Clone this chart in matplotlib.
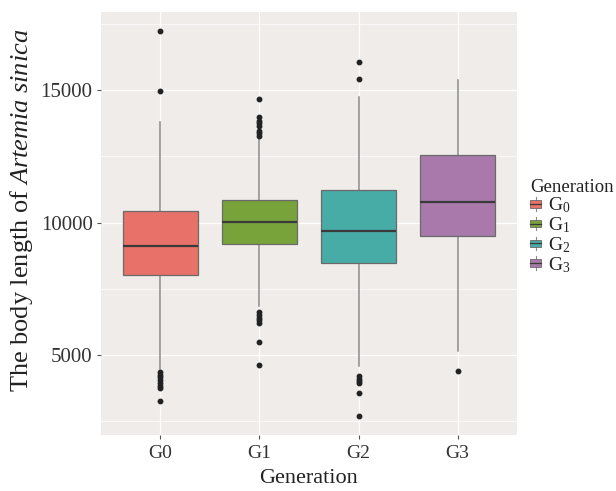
import matplotlib
matplotlib.use("Agg")
import matplotlib.pyplot as plt
from matplotlib.legend_handler import HandlerBase
from matplotlib.patches import Rectangle, Patch
from matplotlib.lines import Line2D

plt.rcParams["font.family"] = ["Liberation Serif", "DejaVu Serif"]
plt.rcParams["mathtext.fontset"] = "custom"
plt.rcParams["mathtext.rm"] = "Liberation Serif"
plt.rcParams["mathtext.it"] = "Liberation Serif:italic"

# values
generations = ["G0", "G1", "G2", "G3"]
legend_labels = ["G$_0$", "G$_1$", "G$_2$", "G$_3$"]
q1 = [8025, 9196, 8467, 9498]
median = [9109, 10038, 9687, 10782]
q3 = [10453, 10857, 11246, 12568]
whis_lo = [4464, 6854, 4562, 5128]
whis_hi = [13814, 13250, 14758, 15389]
outliers = [
    [17240, 14985, 4350, 4249, 4147, 4048, 3947, 3834, 3732, 3266],
    [14660, 14003, 13852, 13754, 13652, 13463, 13376, 13286,
     6639, 6514, 6390, 6300, 6201, 5483, 4626],
    [16069, 15427, 4184, 4097, 4022, 3935, 3557, 2700],
    [4400],
]
colors = ["#E8716A", "#78A23A", "#47ABA6", "#A879AA"]

stats = []
for i in range(4):
    stats.append(dict(label=generations[i], q1=q1[i], med=median[i], q3=q3[i],
                      whislo=whis_lo[i], whishi=whis_hi[i], fliers=outliers[i]))

fig = plt.figure(figsize=(6.16, 4.91), dpi=100)
ax = fig.add_axes([101 / 616, 1 - 435 / 491, 416 / 616, 423.3 / 491])
ax.set_facecolor("#F0ECEA")

pos = [1, 2, 3, 4]
bp = ax.bxp(stats, positions=pos, widths=0.75, patch_artist=True, showcaps=False,
            boxprops=dict(edgecolor="#6a6a6a", linewidth=0.9),
            medianprops=dict(color="#3a3a3a", linewidth=1.6),
            whiskerprops=dict(color="#8a8a8a", linewidth=1.1),
            flierprops=dict(marker="o", markerfacecolor="#222222", markeredgecolor="#222222",
                            markersize=3.2))
for b, c in zip(bp["boxes"], colors):
    b.set_facecolor(c)
for w in bp["whiskers"]:
    w.set_zorder(1)

allv = [v for f in outliers for v in f] + whis_lo + whis_hi
lo, hi = min(allv), max(allv)
pad = (hi - lo) * 0.05
ax.set_ylim(lo - pad, hi + pad)
ax.set_xlim(0.4, 4.6)

ax.set_yticks([5000, 10000, 15000])
ax.set_yticks([2500, 7500, 12500, 17500], minor=True)
ax.set_xticks(pos)
ax.set_xticklabels(generations)
ax.grid(True, which="major", color="white", linewidth=0.9)
ax.grid(True, which="minor", axis="y", color="white", linewidth=0.45)
ax.set_axisbelow(True)
for s in ax.spines.values():
    s.set_visible(False)
ax.tick_params(axis="both", which="major", length=3, color="#555555", width=0.8)
ax.tick_params(axis="y", which="minor", length=0)
ax.tick_params(axis="y", labelsize=15, labelcolor="#333333", pad=3)
ax.tick_params(axis="x", labelsize=14, labelcolor="#333333", pad=4)

ax.set_xlabel("Generation", fontsize=16, color="#222222", labelpad=5)
ax.set_ylabel("The body length of $\\mathit{Artemia\\ sinica}$", fontsize=19,
              color="#222222")
ax.yaxis.set_label_coords(-0.158, 0.53)


class BoxKey(HandlerBase):
    def create_artists(self, legend, orig_handle, xdescent, ydescent, width, height,
                       fontsize, trans):
        cx = width / 2 - xdescent
        cy = height / 2 - ydescent
        bw = width * 0.9
        bh = height * 0.55
        wl = Line2D([cx, cx], [cy - height / 2, cy + height / 2], color="#8a8a8a",
                    linewidth=0.8, transform=trans)
        r = Rectangle((cx - bw / 2, cy - bh / 2), bw, bh, facecolor=orig_handle.get_facecolor(),
                      edgecolor="#6a6a6a", linewidth=0.6, transform=trans)
        md = Line2D([cx - bw / 2, cx + bw / 2], [cy, cy], color="#3a3a3a",
                    linewidth=0.9, transform=trans)
        return [wl, r, md]


handles = [Patch(facecolor=c) for c in colors]
leg = fig.legend(handles, legend_labels, loc="upper left",
                 bbox_to_anchor=(522 / 616, 1 - 171 / 491), frameon=False,
                 title="Generation", title_fontsize=13.5, fontsize=14,
                 handler_map={Patch: BoxKey()}, handlelength=0.6, handleheight=0.7,
                 handletextpad=0.35, labelspacing=0.0, borderaxespad=0,
                 alignment="left")
for t in leg.get_texts():
    t.set_color("#222222")
leg.get_title().set_color("#222222")

fig.savefig("out.png", dpi=100)
